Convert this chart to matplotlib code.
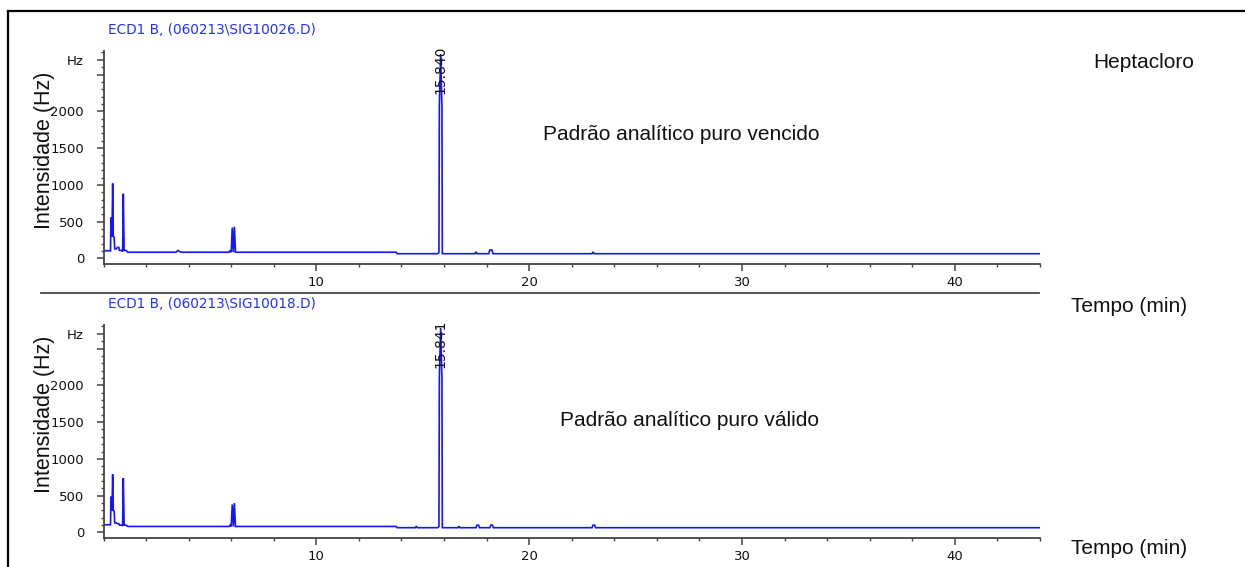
import matplotlib
matplotlib.use("Agg")
import matplotlib.pyplot as plt
from matplotlib.ticker import MultipleLocator, FixedLocator
from matplotlib.lines import Line2D

# ---------------- data ----------------
titles = ["ECD1 B, (060213\\SIG10026.D)", "ECD1 B, (060213\\SIG10018.D)"]
notes = ["Padrão analítico puro vencido", "Padrão analítico puro válido"]
peak_labels = ["15.840", "15.841"]
peak_times = [15.840, 15.841]

# chromatogram 1 (vencido): retention time (min) / signal (Hz)
t_venc = [0.0, 0.33, 0.35, 0.38, 0.40, 0.43, 0.46, 0.50, 0.53, 0.60, 0.65, 0.72, 0.75,
          0.85, 0.90, 0.93, 0.97, 1.05, 1.15, 3.40, 3.50, 3.60, 3.70, 5.90, 5.95, 6.00,
          6.05, 6.10, 6.15, 6.20, 13.75, 13.80, 15.70, 15.76, 15.78, 15.84, 15.90, 15.92,
          17.45, 17.50, 17.55, 18.10, 18.15, 18.25, 18.30, 22.95, 23.00, 23.05, 44.0]
y_venc = [105, 105, 550, 550, 300, 1020, 300, 290, 130, 130, 150, 150, 110,
          110, 95, 880, 110, 110, 85, 85, 110, 90, 85, 85, 110, 85,
          420, 85, 430, 85, 85, 65, 65, 80, 2070, 2780, 2070, 65,
          65, 90, 65, 65, 115, 115, 65, 65, 90, 65, 65]

# chromatogram 2 (válido)
t_val = [0.0, 0.33, 0.35, 0.38, 0.40, 0.43, 0.46, 0.50, 0.53, 0.60, 0.65, 0.72, 0.75,
         0.85, 0.90, 0.93, 0.97, 1.05, 1.15, 5.90, 5.95, 6.00, 6.05, 6.10, 6.15, 6.20,
         13.75, 13.80, 14.65, 14.70, 14.75, 15.70, 15.76, 15.78, 15.84, 15.90, 15.92,
         16.65, 16.70, 16.75, 17.50, 17.55, 17.62, 17.67, 18.15, 18.20, 18.27, 18.32,
         22.95, 23.00, 23.07, 23.12, 44.0]
y_val = [105, 105, 480, 480, 300, 790, 300, 290, 130, 130, 120, 120, 100,
         100, 90, 740, 100, 100, 82, 82, 100, 82, 380, 82, 400, 82,
         82, 65, 65, 85, 65, 65, 80, 2110, 2780, 2110, 65,
         65, 85, 65, 65, 100, 100, 65, 65, 100, 100, 65,
         65, 100, 100, 65, 65]

y_major = [0, 500, 1000, 1500, 2000, 2500, 2700]
y_major_labels = ["0", "500", "1000", "1500", "2000", "", "Hz"]
x_major = [10, 20, 30, 40]
x_major_labels = ["10", "20", "30", "40"]

# ---------------- figure ----------------
W, H = 1245, 567
fig = plt.figure(figsize=(W / 100, H / 100), dpi=100)
fig.patch.set_facecolor("white")

def fx(px):
    return px / W

def fy(py):
    return 1 - py / H

LINE_C = "#1414ff"
AX_C = "#444444"
TXT = "#111111"
tick_font = dict(family="DejaVu Sans", size=9.5)

panels = [
    dict(top=51, bottom=264, t=t_venc, y=y_venc, ylab=150),
    dict(top=325, bottom=538, t=t_val, y=y_val, ylab=414),
]

left_px, right_px = 103.5, 1040
for i, p in enumerate(panels):
    ax = fig.add_axes([fx(left_px), fy(p["bottom"]), fx(right_px) - fx(left_px),
                       (p["bottom"] - p["top"]) / H])
    ax.plot(p["t"], p["y"], color=LINE_C, lw=1.2, solid_joinstyle="miter")
    ax.set_xlim(0, 44)
    ax.set_ylim(-75, 2820)
    ax.set_facecolor("none")
    for s in ["top", "right"]:
        ax.spines[s].set_visible(False)
    for s in ["left", "bottom"]:
        ax.spines[s].set_color(AX_C)
        ax.spines[s].set_linewidth(1.3)
    ax.xaxis.set_major_locator(FixedLocator(x_major))
    ax.set_xticklabels(x_major_labels, **tick_font)
    ax.xaxis.set_minor_locator(MultipleLocator(2))
    ax.yaxis.set_major_locator(FixedLocator(y_major))
    ax.set_yticklabels(y_major_labels, **tick_font)
    ax.yaxis.set_minor_locator(MultipleLocator(100))
    ax.tick_params(axis="both", which="major", length=5, width=1.1, color=AX_C,
                   labelcolor=TXT)
    ax.tick_params(axis="both", which="minor", length=2.5, width=1.0, color=AX_C)
    ax.tick_params(axis="y", which="major", pad=9)
    ax.tick_params(axis="x", which="major", pad=3.5)

    # peak label
    ax.text(peak_times[i], 2230, peak_labels[i], rotation=90, ha="center", va="bottom",
            fontsize=10, family="DejaVu Sans", color=TXT, clip_on=False)

    # title
    fig.text(fx(108), fy(p["top"] - 21), titles[i], color="#2030ff", fontsize=9.8,
             family="DejaVu Sans", ha="left", va="center")
    # y label
    fig.text(fx(45), fy(p["ylab"]), "Intensidade (Hz)",
             rotation=90, ha="center", va="center", fontsize=15.5,
             family="Liberation Sans", color=TXT)

# notes
fig.text(fx(681), fy(135), notes[0], ha="center", va="center", fontsize=15,
         family="Liberation Sans", color=TXT)
fig.text(fx(689), fy(420), notes[1], ha="center", va="center", fontsize=15,
         family="Liberation Sans", color=TXT)
fig.text(fx(1144), fy(62), "Heptacloro", ha="center", va="center", fontsize=15,
         family="Liberation Sans", color=TXT)
fig.text(fx(1129), fy(307), "Tempo (min)", ha="center", va="center", fontsize=15,
         family="Liberation Sans", color=TXT)
fig.text(fx(1129), fy(548), "Tempo (min)", ha="center", va="center", fontsize=15,
         family="Liberation Sans", color=TXT)

# separator line between panels
fig.add_artist(Line2D([fx(41), fx(1039)], [fy(293), fy(293)], color=AX_C, lw=1.3))
# outer frame (top and left edges)
fig.add_artist(Line2D([fx(8), fx(W + 5)], [fy(11), fy(11)], color="black", lw=1.6))
fig.add_artist(Line2D([fx(8), fx(8)], [fy(11), fy(H + 5)], color="black", lw=1.6))

fig.savefig("out.png", dpi=100, facecolor="white")
